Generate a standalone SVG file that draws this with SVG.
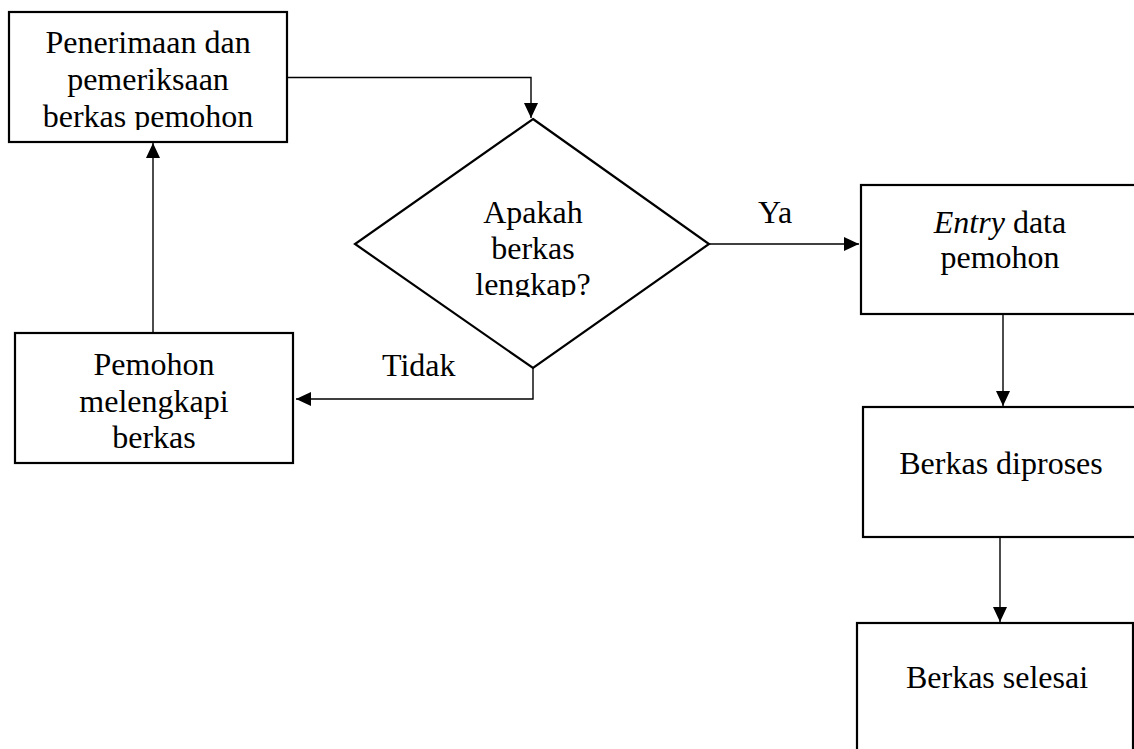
<svg xmlns="http://www.w3.org/2000/svg" width="1134" height="749" viewBox="0 0 1134 749">
<style>
.box{fill:#fff;stroke:#000;stroke-width:2.2}
.ln{fill:none;stroke:#000;stroke-width:1.4}
.t{font-family:"Liberation Serif","Times New Roman",serif;font-size:32px;fill:#000;text-anchor:middle}
.l{font-family:"Liberation Serif","Times New Roman",serif;font-size:32px;fill:#000}
</style>
<defs>
<marker id="ah" markerWidth="15" markerHeight="14" refX="15" refY="7" orient="auto" markerUnits="userSpaceOnUse">
<path d="M0,0 L15,7 L0,14 Z" fill="#000"/>
</marker>
<clipPath id="c1"><rect x="9" y="12" width="278" height="118"/></clipPath>
<clipPath id="c2"><rect x="360" y="120" width="340" height="177"/></clipPath>
</defs>
<rect width="1134" height="749" fill="#fff"/>
<g id="connectors">
<polyline class="ln" points="287,77.5 531,77.5 531,118" marker-end="url(#ah)"/>
<line class="ln" x1="709" y1="244" x2="859" y2="244" marker-end="url(#ah)"/>
<polyline class="ln" points="533,368 533,399 296,399" marker-end="url(#ah)"/>
<line class="ln" x1="153" y1="333" x2="153" y2="143" marker-end="url(#ah)"/>
<line class="ln" x1="1003" y1="315" x2="1003" y2="406" marker-end="url(#ah)"/>
<line class="ln" x1="1000" y1="538" x2="1000" y2="622" marker-end="url(#ah)"/>
<text class="l" x="758" y="223">Ya</text>
<text class="l" x="382" y="376">Tidak</text>
</g>
<g id="n1">
<rect class="box" x="9" y="12" width="278" height="130"/>
<g clip-path="url(#c1)">
<text class="t" x="148" y="53">Penerimaan dan</text>
<text class="t" x="148" y="90">pemeriksaan</text>
<text class="t" x="148" y="127">berkas pemohon</text>
</g>
</g>
<g id="n2">
<polygon class="box" points="533,119 709,244 533,368 355,244"/>
<g clip-path="url(#c2)">
<text class="t" x="533" y="223">Apakah</text>
<text class="t" x="533" y="259">berkas</text>
<text class="t" x="533" y="295">lengkap?</text>
</g>
</g>
<g id="n3">
<rect class="box" x="15" y="333" width="278" height="130"/>
<text class="t" x="154" y="375">Pemohon</text>
<text class="t" x="154" y="412">melengkapi</text>
<text class="t" x="154" y="448">berkas</text>
</g>
<g id="n4">
<rect class="box" x="861" y="185" width="290" height="129"/>
<text class="t" x="1000" y="233"><tspan font-style="italic">Entry</tspan> data</text>
<text class="t" x="1000" y="268">pemohon</text>
</g>
<g id="n5">
<rect class="box" x="863" y="407" width="290" height="130"/>
<text class="t" x="1001" y="474">Berkas diproses</text>
</g>
<g id="n6">
<rect class="box" x="857" y="623" width="276" height="140"/>
<text class="t" x="997" y="688">Berkas selesai</text>
</g>
</svg>
